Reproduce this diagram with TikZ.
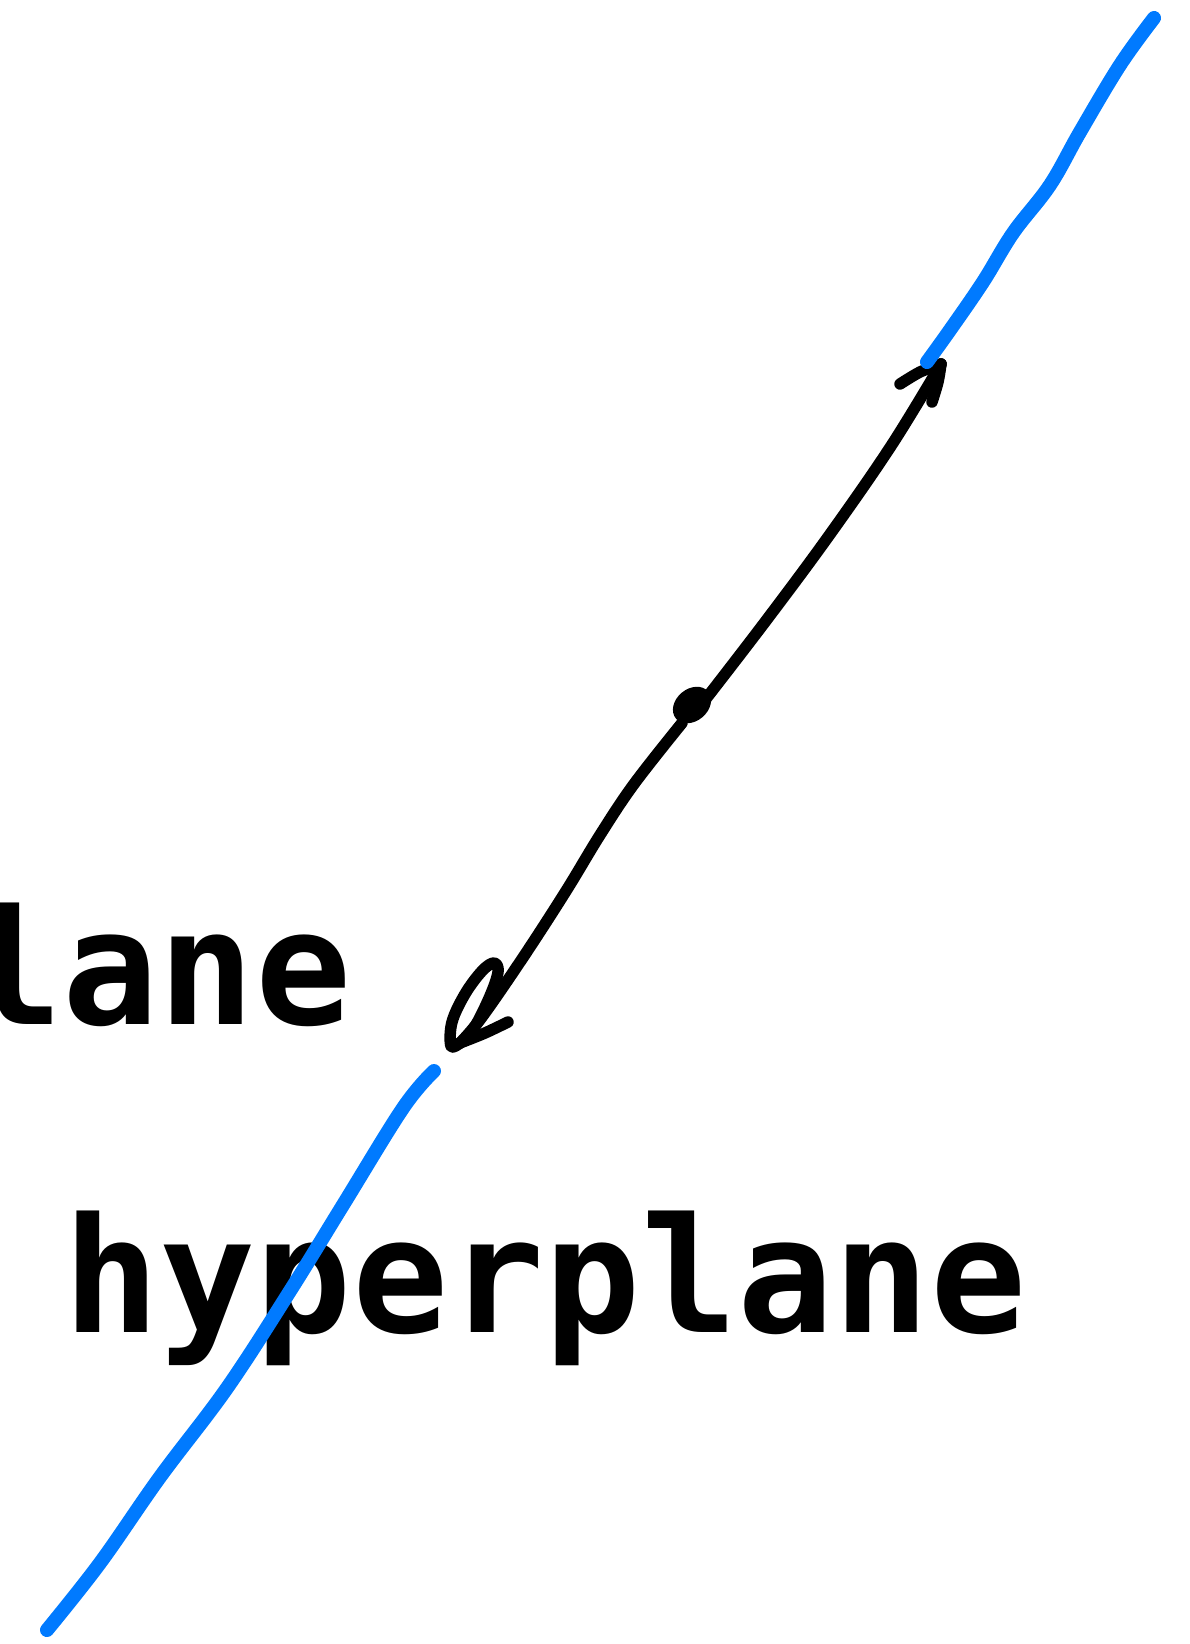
\documentclass[tikz,border=0pt]{standalone}
\usepackage{fontspec}
\setmonofont{DejaVu Sans Mono}
\usepackage{tikz}
\usetikzlibrary{positioning}
\definecolor{planeBlue}{RGB}{0,122,255}

\begin{document}
\begin{tikzpicture}[x=1pt, y=-1pt,
    blueline/.style={draw=planeBlue, line width=14pt, line cap=round, line join=round},
    inkline/.style={draw=black, line width=11.5pt, line cap=round, line join=round},
    every node/.style={font=\fontsize{160}{190}\selectfont\ttfamily\bfseries, inner sep=0pt}]
  \useasboundingbox (0,0) rectangle (1189,1644);
  % Labels
  \node[anchor=base west] (lblcut) at (-34,1024) {lane};
  \node[anchor=base west] (lblhyp) at (63,1332) {hyperplane};
  % Arrow ends
  \coordinate (mid) at (692,705);
  \coordinate (startA) at (705,700);
  \coordinate (tipA) at (941,364);
  \coordinate (startB) at (682,723);
  \coordinate (tipB) at (460,1043);
  % Arrows
  \fill[rotate around={40:(mid)}] (mid) ellipse [x radius=21, y radius=16];
  \draw[inkline] plot[smooth, tension=0.6] coordinates {(startA) (765,622) (828,537) (891,446) (tipA)};
  \draw[inkline] plot[smooth, tension=0.5] coordinates {(900,384) (920,372) (tipA)};
  \draw[inkline] plot[smooth, tension=0.5] coordinates {(tipA) (938,382) (932,402)};
  \draw[inkline] plot[smooth, tension=0.6] coordinates {(startB) (634,784) (600,835) (566,891) (524,956) (482,1017) (tipB)};
  \draw[inkline] plot[smooth, tension=0.5] coordinates {(tipB) (485,1033) (508,1022)};
  \draw[inkline] plot[smooth, tension=0.6] coordinates {(tipB) (451,1046) (452,1022) (465,994) (482,971) (494,963) (498,972) (490,996) (474,1028) (tipB)};
  % Hyperplane pieces
  \draw[blueline] plot[smooth, tension=0.6] coordinates {(1154,18) (1120,65) (1080,132) (1050,185) (1013,233) (983,282) (950,330) (927,362)};
  \draw[blueline] plot[smooth, tension=0.6] coordinates {(434,1071) (403,1108) (343,1205) (290,1291) (227,1388) (160,1477) (100,1563) (47,1630)};
\end{tikzpicture}
\end{document}
